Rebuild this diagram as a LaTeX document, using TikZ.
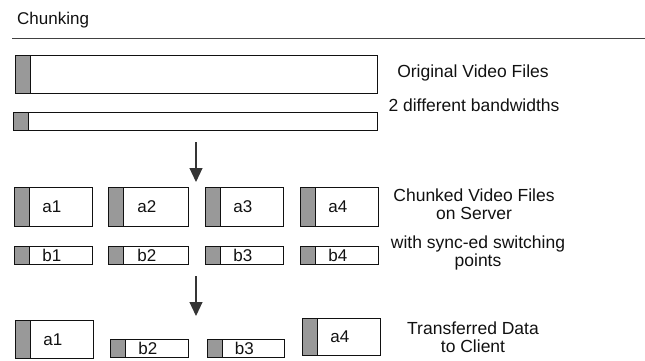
\documentclass[tikz,border=0pt]{standalone}
\usepackage{fontspec}
\setmainfont{Liberation Sans}
\usetikzlibrary{arrows.meta}
\definecolor{barfill}{HTML}{999999}
\definecolor{inkc}{HTML}{111111}
\tikzset{
  vbox/.style 2 args={draw=inkc, line width=0.7pt, fill=white, inner sep=0pt,
    anchor=north west, minimum width=#1pt, minimum height=#2pt,
    font=\fontsize{17}{19}\selectfont, text=inkc,
    path picture={
      \fill[barfill] (path picture bounding box.north west) rectangle ([xshift=15pt]path picture bounding box.south west);
      \draw[inkc, line width=0.7pt] ([xshift=15pt]path picture bounding box.north west) -- ([xshift=15pt]path picture bounding box.south west);
    }},
  lbl/.style={font=\fontsize{17.5}{18}\selectfont, text=inkc, align=center, inner sep=0pt},
  flow/.style={draw=inkc!85, line width=1.1pt, -{Triangle[width=13pt,length=14pt]}}
}
\begin{document}
\begin{tikzpicture}[x=1pt,y=-1pt]
\useasboundingbox (0,0) rectangle (645,361);
% title
\node[lbl, anchor=west, font=\fontsize{17}{19}\selectfont] (title) at (17,20) {Chunking};
\coordinate (rl) at (12,38);
\coordinate (rr) at (645,38);
\draw[inkc!80, line width=0.8pt] (rl) -- (rr);
% original files
\node[vbox={362}{38}] (orig) at (15,55) {};
\node[vbox={364}{18}] (band) at (13,112) {};
\node[lbl] (origlbl) at (473,73) {Original Video Files};
\node[lbl] (bandlbl) at (474,105) {2 different bandwidths};
% arrow 1
\coordinate (ar1s) at (196,142);
\coordinate (ar1e) at (196,182);
\draw[flow] (ar1s) -- (ar1e);
% chunked a
\node[vbox={78}{39}] (a1) at (14,187) {a1\hspace*{3pt}};
\node[vbox={80}{39}] (a2) at (108,187) {a2\hspace*{3pt}};
\node[vbox={78}{39}] (a3) at (205,187) {a3\hspace*{3pt}};
\node[vbox={78}{39}] (a4) at (300,187) {a4\hspace*{3pt}};
\node[lbl] (chlbl) at (474,204) {Chunked Video Files\\on Server};
% chunked b
\node[vbox={78}{18}] (b1) at (14,246) {\raisebox{1pt}{b1}\hspace*{3pt}};
\node[vbox={80}{18}] (b2) at (108,246) {\raisebox{1pt}{b2}\hspace*{3pt}};
\node[vbox={78}{18}] (b3) at (205,246) {\raisebox{1pt}{b3}\hspace*{3pt}};
\node[vbox={78}{18}] (b4) at (300,246) {\raisebox{1pt}{b4}\hspace*{3pt}};
\node[lbl] (synclbl) at (478,253) {with sync-ed switching\\points};
% arrow 2
\coordinate (ar2s) at (196,276);
\coordinate (ar2e) at (196,316);
\draw[flow] (ar2s) -- (ar2e);
% transferred
\node[vbox={78}{38}] (t1) at (15,320) {a1\hspace*{3pt}};
\node[vbox={78}{18}] (t2) at (110,339) {\raisebox{1pt}{b2}\hspace*{3pt}};
\node[vbox={77}{18}] (t3) at (207,339) {\raisebox{1pt}{b3}\hspace*{3pt}};
\node[vbox={78}{37}] (t4) at (302,318) {a4\hspace*{3pt}};
\node[lbl] (trlbl) at (473,337) {Transferred Data\\to Client};
\end{tikzpicture}
\end{document}
